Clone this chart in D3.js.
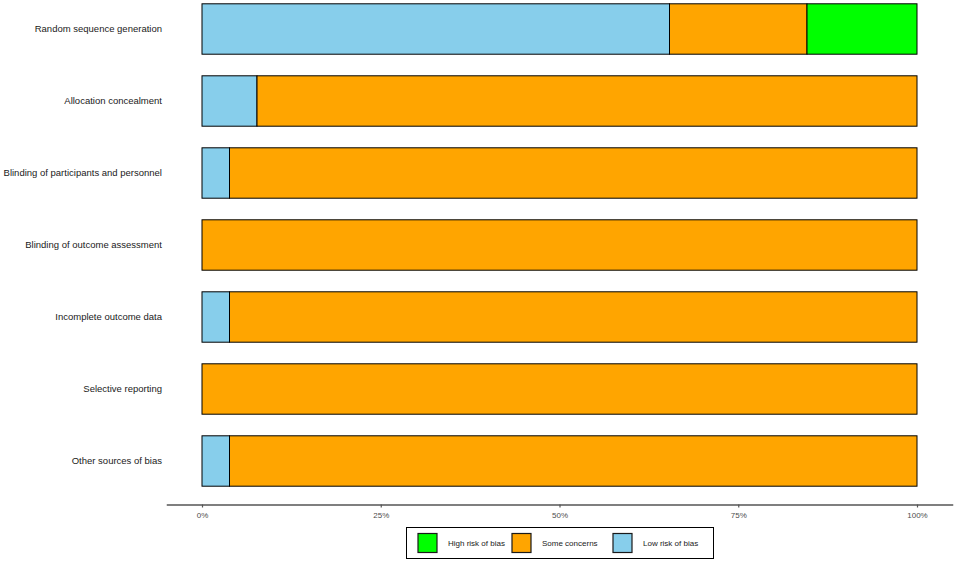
<!DOCTYPE html>
<html>
<head>
<meta charset="utf-8">
<script src="https://cdn.jsdelivr.net/npm/d3@7"></script>
<style>
  body { margin: 0; background: #fff; }
  text { font-family: "Liberation Sans", Arial, sans-serif; }
</style>
</head>
<body>
<svg id="chart"></svg>
<script>
// Domains, top to bottom
const domains = [
  "Random sequence generation",
  "Allocation concealment",
  "Blinding of participants and personnel",
  "Blinding of outcome assessment",
  "Incomplete outcome data",
  "Selective reporting",
  "Other sources of bias"
];

// study counts per judgement (26 studies)
const lowRisk = [17, 2, 1, 0, 1, 0, 1];
const someConcerns = [5, 24, 25, 26, 25, 26, 25];
const highRisk = [4, 0, 0, 0, 0, 0, 0];

const judgements = ["Low risk of bias", "Some concerns", "High risk of bias"];
const legendOrder = ["High risk of bias", "Some concerns", "Low risk of bias"];
const tickValues = [0, 0.25, 0.5, 0.75, 1];

const colors = {
  "Low risk of bias": "#87CEEB",
  "Some concerns": "#FFA500",
  "High risk of bias": "#00FF00"
};

const width = 957, height = 563;

const svg = d3.select("#chart")
  .attr("width", width)
  .attr("height", height);

// build proportion rows
const rows = domains.map((d, i) => {
  const total = lowRisk[i] + someConcerns[i] + highRisk[i];
  return {
    domain: d,
    "Low risk of bias": lowRisk[i] / total,
    "Some concerns": someConcerns[i] / total,
    "High risk of bias": highRisk[i] / total
  };
});

const stacked = d3.stack().keys(judgements)(rows);

// x scale with ggplot-like 5% expansion
const x = d3.scaleLinear()
  .domain([-0.05, 1.05])
  .range([166.25, 952.75]);

const y = d3.scaleBand()
  .domain(domains)
  .range([-14.2, 504.2])
  .paddingInner(0.3)
  .paddingOuter(0.25);

// bars
const layers = svg.append("g")
  .selectAll("g")
  .data(stacked)
  .join("g")
  .attr("fill", d => colors[d.key]);

layers.selectAll("rect")
  .data(d => d.map(v => ({ v, key: d.key })))
  .join("rect")
  .filter(d => d.v[1] - d.v[0] > 0)
  .attr("x", d => x(d.v[0]))
  .attr("y", d => y(d.v.data.domain))
  .attr("width", d => x(d.v[1]) - x(d.v[0]))
  .attr("height", y.bandwidth())
  .attr("stroke", "#000")
  .attr("stroke-width", 1);

// category labels
svg.append("g")
  .selectAll("text")
  .data(domains)
  .join("text")
  .attr("x", 162)
  .attr("y", d => y(d) + y.bandwidth() / 2)
  .attr("dy", "0.35em")
  .attr("text-anchor", "end")
  .attr("font-size", 9.5)
  .attr("fill", "#1a1a1a")
  .text(d => d);

// x axis
const axis = svg.append("g")
  .attr("transform", "translate(0,504.5)")
  .call(d3.axisBottom(x)
    .tickValues(tickValues)
    .tickFormat(d3.format(".0%"))
    .tickSize(3)
    .tickSizeOuter(0));

axis.select(".domain").attr("stroke", "#555").attr("stroke-width", 1.6);
axis.selectAll(".tick line").attr("stroke", "#555").attr("stroke-width", 1.2);
axis.selectAll(".tick text")
  .attr("fill", "#4d4d4d")
  .attr("font-size", 8)
  .attr("font-family", "Liberation Sans, Arial, sans-serif")
  .attr("dy", "0.9em");

// legend
const legend = svg.append("g");
legend.append("rect")
  .attr("x", 406.5)
  .attr("y", 527.5)
  .attr("width", 307)
  .attr("height", 31)
  .attr("fill", "#fff")
  .attr("stroke", "#000")
  .attr("stroke-width", 1);

const legendX = [418, 512, 613];
const items = legend.selectAll("g.item")
  .data(legendOrder)
  .join("g")
  .attr("class", "item")
  .attr("transform", (d, i) => `translate(${legendX[i]},533.5)`);

items.append("rect")
  .attr("width", 19)
  .attr("height", 19)
  .attr("fill", d => colors[d])
  .attr("stroke", "#1a1a1a")
  .attr("stroke-width", 1.2);

items.append("text")
  .attr("x", 30)
  .attr("y", 9.5)
  .attr("dy", "0.35em")
  .attr("font-size", 8)
  .attr("fill", "#1a1a1a")
  .text(d => d);
</script>
</body>
</html>
